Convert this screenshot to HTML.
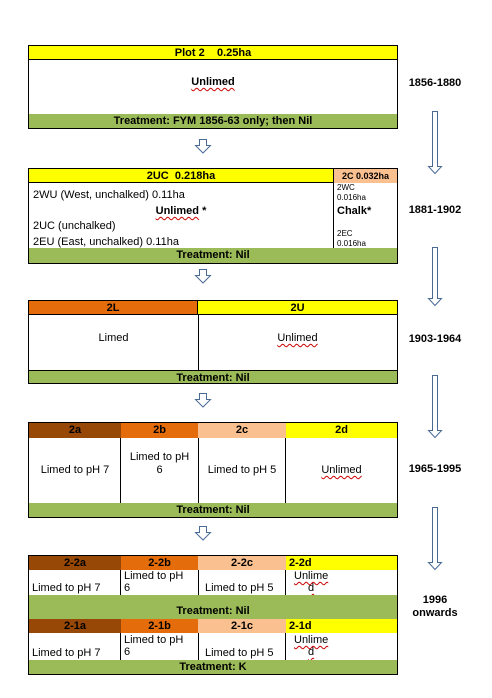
<!DOCTYPE html>
<html><head><style>
body{margin:0;width:492px;height:698px;background:#fff;position:relative;font-family:"Liberation Sans",Arial,sans-serif;font-size:11px;color:#000;overflow:hidden}
.a{position:absolute;box-sizing:border-box;white-space:nowrap}
.box{position:absolute;border:1px solid #000;box-sizing:border-box;background:#fff}
.c{position:absolute;box-sizing:border-box;text-align:center;white-space:nowrap}
.b{font-weight:bold}
.y{background:#ffff00}.g{background:#9bbb59}.o{background:#e46c0a}.br{background:#974806}.p{background:#fac090}
.u{text-decoration:underline wavy #c00;text-decoration-thickness:1px;text-underline-offset:2px}
.lab{position:absolute;left:400px;width:70px;text-align:center;font-weight:bold;font-size:11px;white-space:nowrap}
</style></head><body>

<!-- Box 1 -->
<div class="box" style="left:28px;top:45px;width:370px;height:84px">
 <div class="c y b" style="left:0;top:0;width:368px;height:14px;line-height:14px;border-bottom:1px solid #000">Plot 2&nbsp;&nbsp;&nbsp; 0.25ha</div>
 <div class="c b" style="left:0;top:30px;width:368px"><span class="u">Unlimed</span></div>
 <div class="c g b" style="left:0;top:68px;width:368px;height:14px;line-height:14px">Treatment: FYM 1856-63 only; then Nil</div>
</div>
<div class="lab" style="top:77px">1856-1880</div>

<!-- Box 2 -->
<div class="box" style="left:28px;top:168px;width:370px;height:96px">
 <div class="c y b" style="left:0;top:0;width:304px;height:14px;line-height:14px;border-bottom:1px solid #000">2UC&nbsp; 0.218ha</div>
 <div class="c p b" style="left:304px;top:0;width:64px;height:14px;line-height:14px;font-size:9px;border-left:1px solid #000">2C 0.032ha</div>
 <div class="a" style="left:304px;top:14px;width:1px;height:65px;background:#000"></div>
 <div class="a" style="left:4px;top:20px">2WU (West, unchalked) 0.11ha</div>
 <div class="c b" style="left:0;top:36px;width:304px"><span class="u">Unlimed</span> *</div>
 <div class="a" style="left:4px;top:51px">2UC (unchalked)</div>
 <div class="a" style="left:4px;top:67px">2EU (East, unchalked) 0.11ha</div>
 <div class="a" style="left:308px;top:14px;font-size:8px;line-height:10px">2WC<br>0.016ha</div>
 <div class="a b" style="left:308px;top:36px">Chalk*</div>
 <div class="a" style="left:308px;top:60px;font-size:8px;line-height:10px">2EC<br>0.016ha</div>
 <div class="c g b" style="left:0;top:79px;width:368px;height:15px;line-height:15px">Treatment: Nil</div>
</div>
<div class="lab" style="top:204px">1881-1902</div>

<!-- Box 3 -->
<div class="box" style="left:28px;top:300px;width:370px;height:84px">
 <div class="c o b" style="left:0;top:0;width:169px;height:14px;line-height:14px;border-bottom:1px solid #000;border-right:1px solid #000">2L</div>
 <div class="c y b" style="left:169px;top:0;width:199px;height:14px;line-height:14px;border-bottom:1px solid #000">2U</div>
 <div class="a" style="left:169px;top:14px;width:1px;height:55px;background:#000"></div>
 <div class="c" style="left:0;top:31px;width:169px">Limed</div>
 <div class="c" style="left:169px;top:31px;width:199px"><span class="u">Unlimed</span></div>
 <div class="c g b" style="left:0;top:69px;width:368px;height:13px;line-height:14px;border-top:1px solid #000">Treatment: Nil</div>
</div>
<div class="lab" style="top:333px">1903-1964</div>

<!-- Box 4 -->
<div class="box" style="left:28px;top:422px;width:370px;height:96px">
 <div class="c br b" style="left:0;top:0;width:92px;height:15px;line-height:15px">2a</div>
 <div class="c o b" style="left:92px;top:0;width:77px;height:15px;line-height:15px">2b</div>
 <div class="c p b" style="left:169px;top:0;width:88px;height:15px;line-height:15px">2c</div>
 <div class="c y b" style="left:257px;top:0;width:111px;height:15px;line-height:15px">2d</div>
 <div class="a" style="left:91px;top:15px;width:1px;height:65px;background:#000"></div>
 <div class="a" style="left:169px;top:15px;width:1px;height:65px;background:#000"></div>
 <div class="a" style="left:256px;top:15px;width:1px;height:65px;background:#000"></div>
 <div class="c" style="left:0;top:41px;width:92px">Limed to pH 7</div>
 <div class="c" style="left:92px;top:28px;width:77px;line-height:13px">Limed to pH<br>6</div>
 <div class="c" style="left:169px;top:41px;width:88px">Limed to pH 5</div>
 <div class="c" style="left:257px;top:41px;width:111px"><span class="u">Unlimed</span></div>
 <div class="c g b" style="left:0;top:80px;width:368px;height:14px;line-height:14px">Treatment: Nil</div>
</div>
<div class="lab" style="top:463px">1965-1995</div>

<!-- Box 5 -->
<div class="box" style="left:28px;top:555px;width:370px;height:120px">
 <div class="c br b" style="left:0;top:0;width:92px;height:14px;line-height:14px">2-2a</div>
 <div class="c o b" style="left:92px;top:0;width:77px;height:14px;line-height:14px">2-2b</div>
 <div class="c p b" style="left:169px;top:0;width:88px;height:14px;line-height:14px">2-2c</div>
 <div class="c y b" style="left:257px;top:0;width:111px;height:14px;line-height:14px;text-align:left;padding-left:3px">2-2d</div>
 <div class="a" style="left:91px;top:14px;width:1px;height:25px;background:#000"></div>
 <div class="a" style="left:169px;top:14px;width:1px;height:25px;background:#000"></div>
 <div class="a" style="left:256px;top:14px;width:1px;height:25px;background:#000"></div>
 <div class="a" style="left:3px;top:26px;line-height:12px">Limed to pH 7</div>
 <div class="a" style="left:95px;top:14px;line-height:12px">Limed to pH<br>6</div>
 <div class="a" style="left:176px;top:26px;line-height:12px">Limed to pH 5</div>
 <div class="a" style="left:265px;top:14px;line-height:12px;text-align:center"><span class="u">Unlime</span><br><span class="u">d</span></div>
 <div class="c g b" style="left:0;top:39px;width:368px;height:24px;line-height:33px">Treatment: Nil</div>
 <div class="c br b" style="left:0;top:63px;width:92px;height:14px;line-height:14px">2-1a</div>
 <div class="c o b" style="left:92px;top:63px;width:77px;height:14px;line-height:14px">2-1b</div>
 <div class="c p b" style="left:169px;top:63px;width:88px;height:14px;line-height:14px">2-1c</div>
 <div class="c y b" style="left:257px;top:63px;width:111px;height:14px;line-height:14px;text-align:left;padding-left:3px">2-1d</div>
 <div class="a" style="left:91px;top:77px;width:1px;height:27px;background:#000"></div>
 <div class="a" style="left:169px;top:77px;width:1px;height:27px;background:#000"></div>
 <div class="a" style="left:256px;top:77px;width:1px;height:27px;background:#000"></div>
 <div class="a" style="left:3px;top:91px;line-height:12px">Limed to pH 7</div>
 <div class="a" style="left:95px;top:78px;line-height:12px">Limed to pH<br>6</div>
 <div class="a" style="left:176px;top:91px;line-height:12px">Limed to pH 5</div>
 <div class="a" style="left:265px;top:78px;line-height:12px;text-align:center"><span class="u">Unlime</span><br><span class="u">d</span></div>
 <div class="c g b" style="left:0;top:104px;width:368px;height:14px;line-height:14px">Treatment: K</div>
</div>
<div class="lab" style="top:594px;line-height:13px">1996<br>onwards</div>

<!-- arrows -->
<svg class="a" style="left:0;top:0" width="492" height="698">
 <g fill="#fff" stroke="#4a6a96" stroke-width="1">
  <path d="M199.5 139.5h7v6h4l-7.5 7.5l-7.5-7.5h4z"/>
  <path d="M199.5 269.5h7v6h4l-7.5 7.5l-7.5-7.5h4z"/>
  <path d="M199.5 393.5h7v6h4l-7.5 7.5l-7.5-7.5h4z"/>
  <path d="M199.5 526.5h7v6h4l-7.5 7.5l-7.5-7.5h4z"/>
  <path d="M432.5 111.5h5v55h4l-6.5 7l-6.5-7h4z"/>
  <path d="M432.5 247.5h5v51h4l-6.5 7l-6.5-7h4z"/>
  <path d="M432.5 375.5h5v55h4l-6.5 7l-6.5-7h4z"/>
  <path d="M432.5 507.5h5v55h4l-6.5 7l-6.5-7h4z"/>
 </g>
</svg>
</body></html>
